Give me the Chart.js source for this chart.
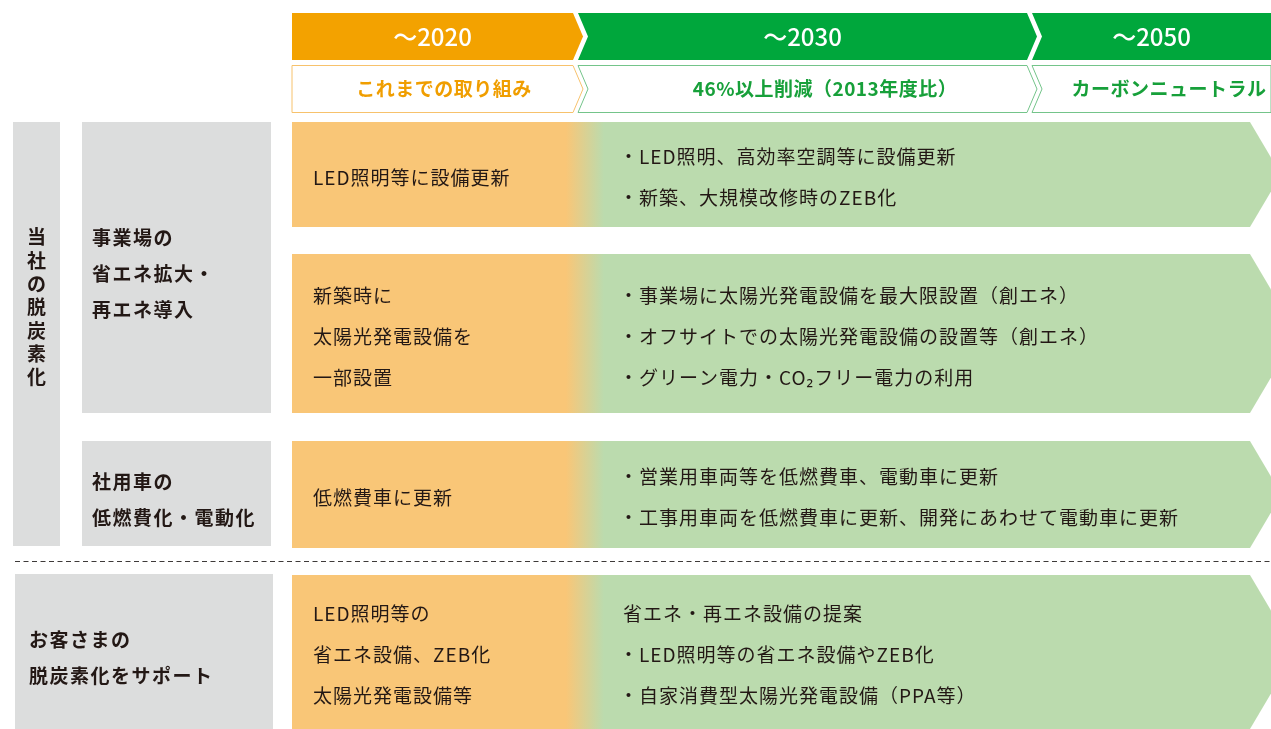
<!DOCTYPE html>
<html><head><meta charset="utf-8">
<script src="https://cdn.jsdelivr.net/npm/chart.js@4/dist/chart.umd.min.js"></script>
<style>html,body{margin:0;padding:0;background:#fff}#wrap{width:1271px;height:729px;overflow:hidden}</style>
</head><body><div id="wrap"><canvas id="c" width="1271" height="729"></canvas></div>
<script>
// ---- data ----
const periods = ['～2020', '～2030', '～2050'];
const periodGoals = ['これまでの取り組み', '46%以上削減（2013年度比）', 'カーボンニュートラル'];
const groupLabel = '当社の脱炭素化';
const themes = [
  ['事業場の', '省エネ拡大・', '再エネ導入'],
  ['社用車の', '低燃費化・電動化'],
  ['お客さまの', '脱炭素化をサポート']
];
const rowTheme = [0, 0, 1, 2];
const pastActions = [
  ['LED照明等に設備更新'],
  ['新築時に', '太陽光発電設備を', '一部設置'],
  ['低燃費車に更新'],
  ['LED照明等の', '省エネ設備、ZEB化', '太陽光発電設備等']
];
const futureActions = [
  ['・LED照明、高効率空調等に設備更新', '・新築、大規模改修時のZEB化'],
  ['・事業場に太陽光発電設備を最大限設置（創エネ）', '・オフサイトでの太陽光発電設備の設置等（創エネ）', '・グリーン電力・CO₂フリー電力の利用'],
  ['・営業用車両等を低燃費車、電動車に更新', '・工事用車両を低燃費車に更新、開発にあわせて電動車に更新'],
  ['省エネ・再エネ設備の提案', '・LED照明等の省エネ設備やZEB化', '・自家消費型太陽光発電設備（PPA等）']
];

// ---- layout (scale units = px) ----
const L = {
  head1: [13, 60], head2: [65, 113],
  phaseX: [[292, 573], [578, 1027], [1032, 1271]], notch: 10,
  goalX: [444, 825, 1169],
  rows: [[122, 227], [254, 413], [441, 548], [575, 729]],
  bandX0: 292, bandX1: 1250, gradX: [566, 604], tipSlope: 0.59,
  pastTextX: 313, futureTextX: 619, plainTextX: 623, lineGap: 41, textOff: 3,
  themeBoxes: [{x: [82, 271], y: [122, 413]}, {x: [82, 271], y: [441, 546]}, {x: [15, 273], y: [574, 729]}],
  themeTextX: [92, 92, 29], themeGap: 36, themeOff: 6,
  groupBox: {x: [13, 60], y: [122, 546]}, groupGap: 23.3, groupOff: -27,
  dashY: 561.5, dashX: [15, 1271]
};
const C = {
  orange: '#F3A200', green: '#00A73C', orangeLine: '#F7C26C', greenLine: '#74C48A',
  orangeText: '#F09E00', greenText: '#17A03A', bandOrange: '#F9C677', bandGreen: '#BBDBAE',
  grey: '#DCDDDD', text: '#231815', dash: '#3E3A39'
};
const FONT = '"Noto Sans CJK JP","Noto Sans",sans-serif';

const roadmap = {
  id: 'roadmap',
  beforeDatasetsDraw(chart) {
    const ctx = chart.ctx;
    const X = v => chart.scales.x.getPixelForValue(v);
    const Y = v => chart.scales.y.getPixelForValue(v);
    const poly = pts => { ctx.beginPath(); pts.forEach((p, i) => i ? ctx.lineTo(X(p[0]), Y(p[1])) : ctx.moveTo(X(p[0]), Y(p[1]))); ctx.closePath(); };
    const text = (s, x, y, font, color, align, ls) => {
      ctx.font = font; ctx.fillStyle = color; ctx.textAlign = align || 'left'; ctx.textBaseline = 'middle';
      ctx.letterSpacing = ls || '0px';
      ctx.fillText(s, X(x), Y(y));
    };
    const phaseShape = (i, y0, y1) => {
      const [a, b] = L.phaseX[i]; const m = (y0 + y1) / 2; const last = i === periods.length - 1;
      const pts = [[a, y0], [b, y0]];
      if (last) { pts.push([b, y1]); } else { pts.push([b + L.notch, m], [b, y1]); }
      pts.push([a, y1]);
      if (i > 0) pts.push([a + L.notch, m]);
      return pts;
    };
    ctx.save();
    // header row 1
    periods.forEach((p, i) => {
      poly(phaseShape(i, L.head1[0], L.head1[1]));
      ctx.fillStyle = i === 0 ? C.orange : C.green; ctx.fill();
      const [a, b] = L.phaseX[i];
      text(p, (a + b) / 2, (L.head1[0] + L.head1[1]) / 2, '500 24px ' + FONT, '#fff', 'center');
    });
    // header row 2
    periodGoals.forEach((g, i) => {
      poly(phaseShape(i, L.head2[0] + 0.5, L.head2[1] - 0.5));
      ctx.lineWidth = 1; ctx.strokeStyle = i === 0 ? C.orangeLine : C.greenLine; ctx.stroke();
      text(g, L.goalX[i], (L.head2[0] + L.head2[1]) / 2, 'bold 19px ' + FONT, i === 0 ? C.orangeText : C.greenText, 'center', '0.5px');
    });
    // group box
    const gb = L.groupBox;
    ctx.fillStyle = C.grey;
    ctx.fillRect(X(gb.x[0]), Y(gb.y[0]), X(gb.x[1]) - X(gb.x[0]), Y(gb.y[1]) - Y(gb.y[0]));
    const gmid = (gb.y[0] + gb.y[1]) / 2 + L.groupOff;
    const gch = Array.from(groupLabel);
    gch.forEach((ch, k) => text(ch, (gb.x[0] + gb.x[1]) / 2, gmid + (k - (gch.length - 1) / 2) * L.groupGap, 'bold 19px ' + FONT, C.text, 'center'));
    // theme boxes
    themes.forEach((lines, i) => {
      const b = L.themeBoxes[i];
      ctx.fillStyle = C.grey;
      ctx.fillRect(X(b.x[0]), Y(b.y[0]), X(b.x[1]) - X(b.x[0]), Y(b.y[1]) - Y(b.y[0]));
      const mid = (b.y[0] + b.y[1]) / 2 + L.themeOff;
      lines.forEach((s, k) => text(s, L.themeTextX[i], mid + (k - (lines.length - 1) / 2) * L.themeGap, 'bold 19px ' + FONT, C.text, 'left', '1.5px'));
    });
    // bands
    L.rows.forEach((r, i) => {
      const [y0, y1] = r; const m = (y0 + y1) / 2;
      const tip = L.bandX1 + (y1 - y0) / 2 * L.tipSlope;
      poly([[L.bandX0, y0], [L.bandX1, y0], [tip, m], [L.bandX1, y1], [L.bandX0, y1]]);
      const g = ctx.createLinearGradient(X(L.gradX[0]), 0, X(L.gradX[1]), 0);
      g.addColorStop(0, C.bandOrange); g.addColorStop(1, C.bandGreen);
      ctx.fillStyle = g; ctx.fill();
      const tm = m + L.textOff;
      const past = pastActions[i];
      past.forEach((s, k) => text(s, L.pastTextX, tm + (k - (past.length - 1) / 2) * L.lineGap, '19px ' + FONT, C.text, 'left', '1px'));
      const fut = futureActions[i];
      fut.forEach((s, k) => text(s, s.startsWith('・') ? L.futureTextX : L.plainTextX, tm + (k - (fut.length - 1) / 2) * L.lineGap, '19px ' + FONT, C.text, 'left', '1px'));
    });
    // dashed separator
    ctx.beginPath(); ctx.setLineDash([5, 3.5]); ctx.lineWidth = 1; ctx.strokeStyle = C.dash;
    ctx.moveTo(X(L.dashX[0]), Y(L.dashY)); ctx.lineTo(X(L.dashX[1]), Y(L.dashY)); ctx.stroke();
    ctx.restore();
  }
};

new Chart(document.getElementById('c'), {
  type: 'scatter',
  data: { datasets: [{ data: [], pointRadius: 0 }] },
  options: {
    responsive: false, animation: false, devicePixelRatio: 1, events: [],
    layout: { padding: 0 },
    plugins: { legend: { display: false }, tooltip: { enabled: false } },
    scales: {
      x: { type: 'linear', min: 0, max: 1271, display: false },
      y: { type: 'linear', min: 0, max: 729, reverse: true, display: false }
    }
  },
  plugins: [roadmap]
});
</script></body></html>
